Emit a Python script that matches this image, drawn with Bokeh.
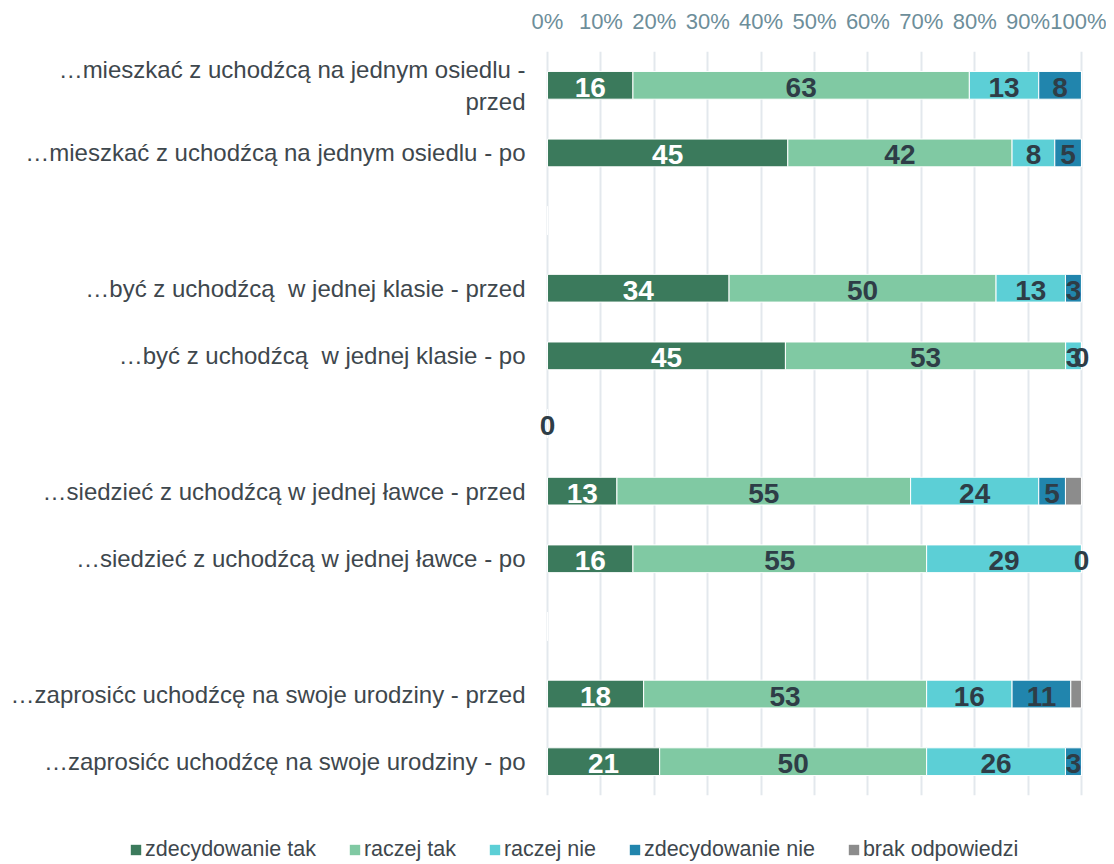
from bokeh.plotting import figure
from bokeh.layouts import column
from bokeh.models import (ColumnDataSource, FactorRange, Range1d, LabelSet, Legend,
                          LegendItem, FixedTicker)
from bokeh.core.properties import value
from bokeh.embed import file_html
from bokeh.resources import INLINE

categories = [
    "…mieszkać z uchodźcą na jednym osiedlu -\nprzed",
    "…mieszkać z uchodźcą na jednym osiedlu - po",
    " ",
    "…być z uchodźcą\u00a0 w jednej klasie - przed",
    "…być z uchodźcą\u00a0 w jednej klasie - po",
    "  ",
    "…siedzieć z uchodźcą w jednej ławce - przed",
    "…siedzieć z uchodźcą w jednej ławce - po",
    "   ",
    "…zaprosićc uchodźcę na swoje urodziny - przed",
    "…zaprosićc uchodźcę na swoje urodziny - po",
]
series_names = ["zdecydowanie tak", "raczej tak", "raczej nie", "zdecydowanie nie", "brak odpowiedzi"]
zdecydowanie_tak = [16, 45, None, 34, 45, 0, 13, 16, None, 18, 21]
raczej_tak = [63, 42, None, 50, 53, None, 55, 55, None, 53, 50]
raczej_nie = [13, 8, None, 13, 3, None, 24, 29, None, 16, 26]
zdecydowanie_nie = [8, 5, None, 3, 0, None, 5, 0, None, 11, 3]
brak_odpowiedzi = [0, 0, None, 0, 0, None, 3, 0, None, 2, 0]
tick_values = [0, 10, 20, 30, 40, 50, 60, 70, 80, 90, 100]

colors = ["#3b7a5c", "#80c9a3", "#5ccfd6", "#2185ad", "#8c8c8c"]
series = [zdecydowanie_tak, raczej_tak, raczej_nie, zdecydowanie_nie, brak_odpowiedzi]
keys = ["s0", "s1", "s2", "s3", "s4"]

# normalized (100%) stacking
data = {"cat": categories}
for k in keys:
    data[k] = []
lab_x, lab_y, lab_t, lab_c = [], [], [], []
for i, c in enumerate(categories):
    vals = [s[i] if s[i] is not None else 0 for s in series]
    total = sum(vals)
    acc = 0.0
    for j, k in enumerate(keys):
        w = vals[j] / total * 100 if total else 0
        data[k].append(w)
        if series[j][i] is not None and j < 4:
            lab_x.append(acc + w / 2)
            lab_y.append(c)
            lab_t.append(str(series[j][i]))
            lab_c.append("#ffffff" if (j == 0 and w > 0) else "#2e3d47")
        acc += w

source = ColumnDataSource(data)
labels_src = ColumnDataSource(dict(x=lab_x, y=lab_y, t=lab_t, c=lab_c))

W, H1, H2 = 1106, 796, 66
p = figure(width=W, height=H1, output_backend="svg", toolbar_location=None,
           y_range=FactorRange(factors=list(reversed(categories))),
           x_range=Range1d(-3, 103), x_axis_location="above",
           min_border_left=531, min_border_right=W - 1097, min_border_top=51,
           min_border_bottom=H1 - 795)
p.outline_line_color = None
p.frame_align = False

renderers = p.hbar_stack(keys, y="cat", height=0.41, color=colors, source=source,
                         line_color="white", line_width=1)

p.add_layout(LabelSet(x="x", y="y", text="t", source=labels_src, text_color="c",
                      text_font=value("Liberation Sans"), text_font_style="bold",
                      text_font_size="28px", text_align="center",
                      text_baseline="middle", y_offset=-2))

xa = p.xaxis[0]
xa.ticker = FixedTicker(ticks=tick_values)
xa.major_label_overrides = {t: f"{t}%" for t in tick_values}
xa.major_label_text_font = "Liberation Sans"
xa.major_label_text_font_size = "22px"
xa.major_label_text_color = "#6d8e9a"
xa.axis_line_color = None
xa.major_tick_line_color = None
xa.minor_tick_line_color = None
xa.major_tick_out = 0
xa.major_label_standoff = 18

ya = p.yaxis[0]
ya.major_label_text_font = "Liberation Sans"
ya.major_label_text_font_size = "24px"
ya.major_label_text_color = "#3e474d"
ya.axis_line_color = None
ya.major_tick_line_color = None
ya.minor_tick_line_color = None
ya.major_tick_out = 0
ya.major_label_standoff = 6

p.xgrid.ticker = FixedTicker(ticks=tick_values)
p.xgrid.grid_line_color = "#e3e8ed"
p.xgrid.grid_line_width = 2
p.ygrid.grid_line_color = None

# legend strip below the chart (its own frame spans the whole strip)
pl = figure(width=W, height=H2, output_backend="svg", toolbar_location=None,
            x_axis_location=None, y_axis_location=None, min_border=0,
            x_range=Range1d(-400, -300), y_range=FactorRange(factors=categories))
pl.frame_align = False
pl.outline_line_color = None
pl.grid.visible = False
legend_renderers = pl.hbar_stack(keys, y="cat", height=0.41, color=colors, source=source,
                                 line_color=None)
legend = Legend(items=[LegendItem(label=n, renderers=[r]) for n, r in zip(series_names, legend_renderers)],
                orientation="horizontal", location=(129, 0),
                glyph_width=13, glyph_height=13, label_standoff=3, spacing=32,
                padding=0, margin=0, border_line_color=None, background_fill_alpha=0,
                label_text_font="Liberation Sans", label_text_font_size="21.5px",
                label_text_color="#3e474d")
pl.add_layout(legend, "center")

layout = column(p, pl, spacing=0)
open("out.html", "w").write(file_html(layout, INLINE))
